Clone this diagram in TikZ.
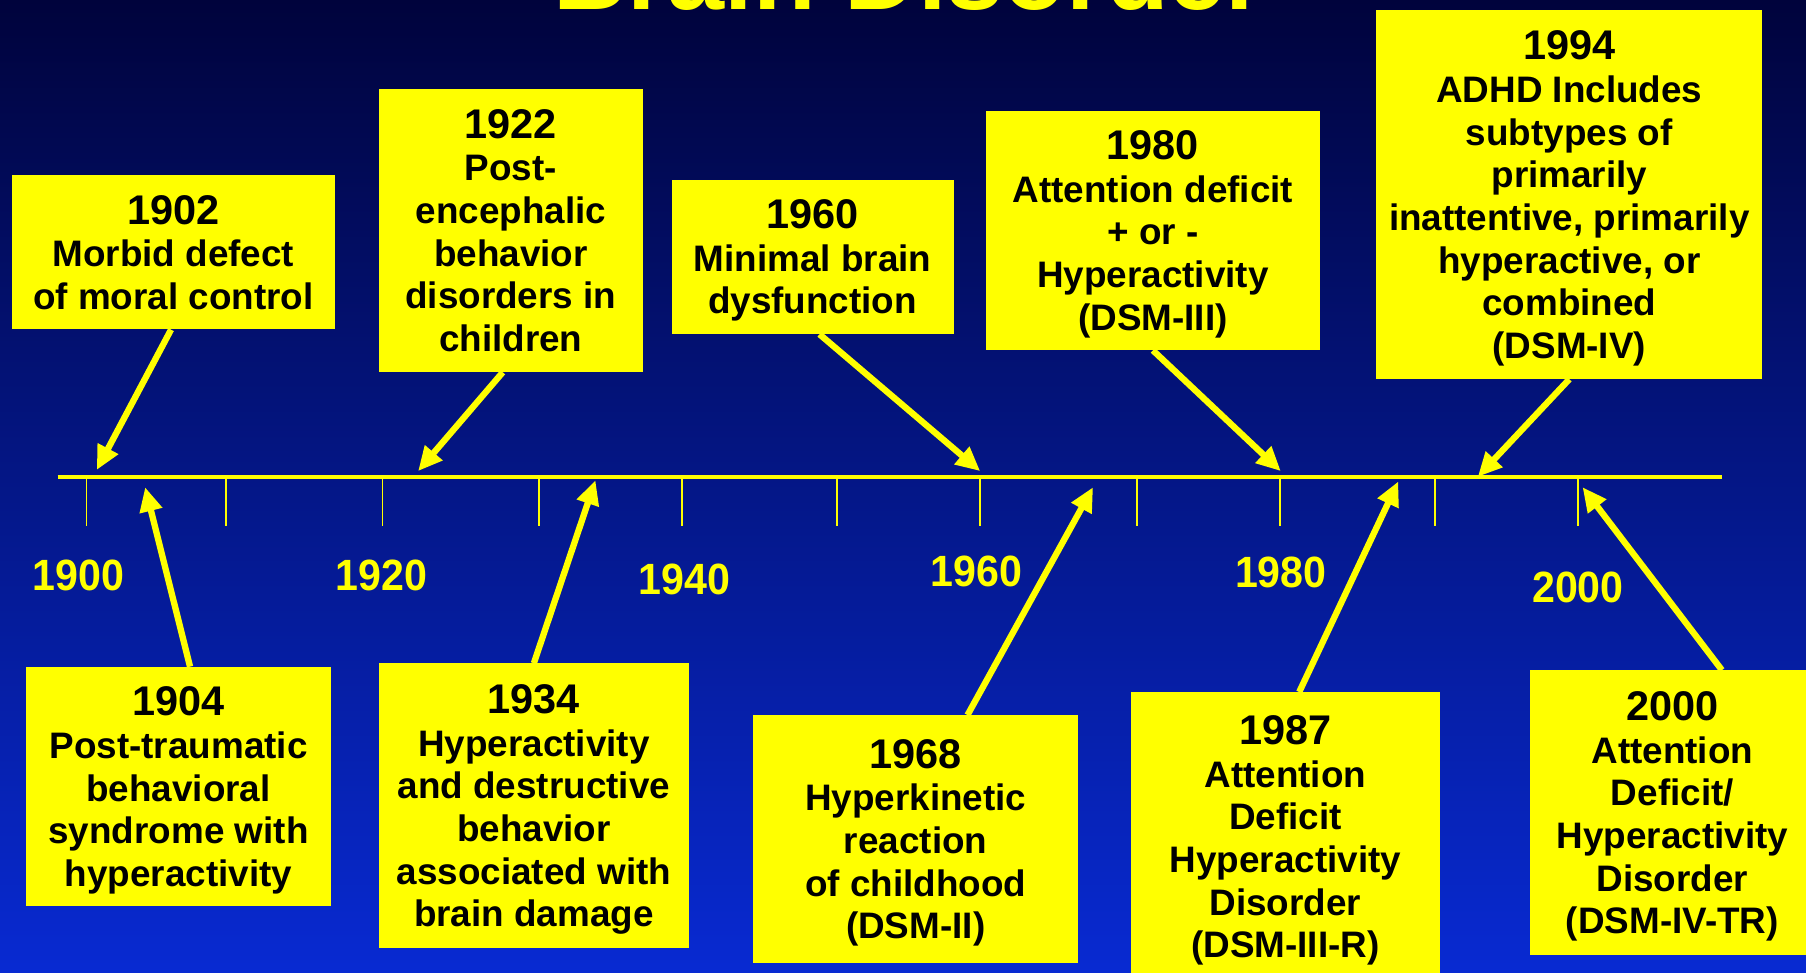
\documentclass[tikz,border=0pt]{standalone}
\usepackage{fontspec}
\setmainfont{Liberation Sans}
\newfontfamily\yearfont[FakeStretch=0.94]{Liberation Sans}
\usetikzlibrary{arrows.meta}
\definecolor{bgtop}{RGB}{0,3,60}
\definecolor{bgmid}{RGB}{4,25,150}
\definecolor{bgbot}{RGB}{8,42,210}
\definecolor{note}{RGB}{255,255,0}
\newcommand{\yr}[1]{{\fontsize{36}{37}\selectfont #1}}
\begin{document}
\begin{tikzpicture}[x=1pt,y=-1pt,line cap=butt,line join=miter,>={Triangle[length=21pt,width=19pt]}]
				\tikzset{event/.style={fill=note,inner sep=0pt,text depth=0pt,align=center,font=\bfseries\fontsize{32}{37}\selectfont},
						pointer/.style={note,line width=5.5pt,->},
						yearlabel/.style={note,font=\yearfont\bfseries\fontsize{38}{40}\selectfont}}
				\useasboundingbox (0,0) rectangle (1568,844);
				\clip (0,0) rectangle (1568,844);
				\shade[top color=bgtop,middle color=bgmid,bottom color=bgbot] (0,0) rectangle (1568,844);
				\node[note,anchor=base,font=\bfseries\fontsize{89}{90}\selectfont] (title) at (790,8) {Brain Disorder};
				\coordinate (tl-w) at (50,414);
				\coordinate (tl-e) at (1495,414);
				\draw[note,line width=3.8pt] (tl-w)--(tl-e);
				\foreach \x in {75,196,332,468,592,727,851,987,1111,1246,1370}
					\draw[note,line width=1.5pt] (\x,416)--(\x,457);
				\foreach \x/\y/\t in {68/500/1900,331/500/1920,594/503/1940,848/496/1960,1112/497/1980,1370/510/2000}
					\node[yearlabel] (y\t) at (\x,\y) {\t};

				\node[event,minimum width=281pt,minimum height=134pt] (e1902) at (150.5,219) {\yr{1902}\\Morbid defect\\of moral control};
				\node[event,minimum width=229pt,minimum height=246pt] (e1922) at (443.5,200) {\yr{1922}\\Post-\\encephalic\\behavior\\disorders in\\children};
				\node[event,minimum width=245pt,minimum height=134pt] (e1960) at (705.5,223) {\yr{1960}\\Minimal brain\\dysfunction};
				\node[event,minimum width=290pt,minimum height=208pt] (e1980) at (1001,200) {\yr{1980}\\Attention deficit\\+ or -\\Hyperactivity\\(DSM-III)};
				\node[event,minimum width=335pt,minimum height=320pt] (e1994) at (1362.5,169) {\yr{1994}\\ADHD Includes\\subtypes of\\primarily\\inattentive, primarily\\hyperactive, or\\combined\\(DSM-IV)};
				\node[event,minimum width=264pt,minimum height=208pt] (e1904) at (155,683) {\yr{1904}\\Post-traumatic\\behavioral\\syndrome with\\hyperactivity};
				\node[event,minimum width=269pt,minimum height=247pt] (e1934) at (463.5,699.5) {\yr{1934}\\Hyperactivity\\and destructive\\behavior\\associated with\\brain damage};
				\node[event,minimum width=282pt,minimum height=215pt] (e1968) at (795,728.5) {\yr{1968}\\Hyperkinetic\\reaction\\of childhood\\(DSM-II)};
				\node[event,minimum width=268pt,minimum height=251pt] (e1987) at (1116,726.5) {\yr{1987}\\Attention\\Deficit\\Hyperactivity\\Disorder\\(DSM-III-R)};
				\node[event,minimum width=248pt,minimum height=247pt] (e2000) at (1452,705.5) {\yr{2000}\\Attention\\Deficit/\\Hyperactivity\\Disorder\\(DSM-IV-TR)};

				\coordinate (p1902) at (84,408);
				\coordinate (p1922) at (363,409);
				\coordinate (p1960) at (851,409);
				\coordinate (p1980) at (1112,409);
				\coordinate (p1994) at (1283,414);
				\coordinate (p1904) at (126,423);
				\coordinate (p1934) at (517,417);
				\coordinate (p1968) at (949,423);
				\coordinate (p1987) at (1214,418);
				\coordinate (p2000) at (1374,423);
				\draw[pointer] ([xshift=-2pt]e1902.south)--(p1902);
				\draw[pointer] ([xshift=-7pt]e1922.south)--(p1922);
				\draw[pointer] ([xshift=6pt]e1960.south)--(p1960);
				\draw[pointer] (e1980.south)--(p1980);
				\draw[pointer] (e1994.south)--(p1994);
				\draw[pointer] ([xshift=10pt]e1904.north)--(p1904);
				\draw[pointer] (e1934.north)--(p1934);
				\draw[pointer] ([xshift=45pt]e1968.north)--(p1968);
				\draw[pointer] ([xshift=12pt]e1987.north)--(p1987);
				\draw[pointer] ([xshift=43pt]e2000.north)--(p2000);
			\end{tikzpicture}
\end{document}
